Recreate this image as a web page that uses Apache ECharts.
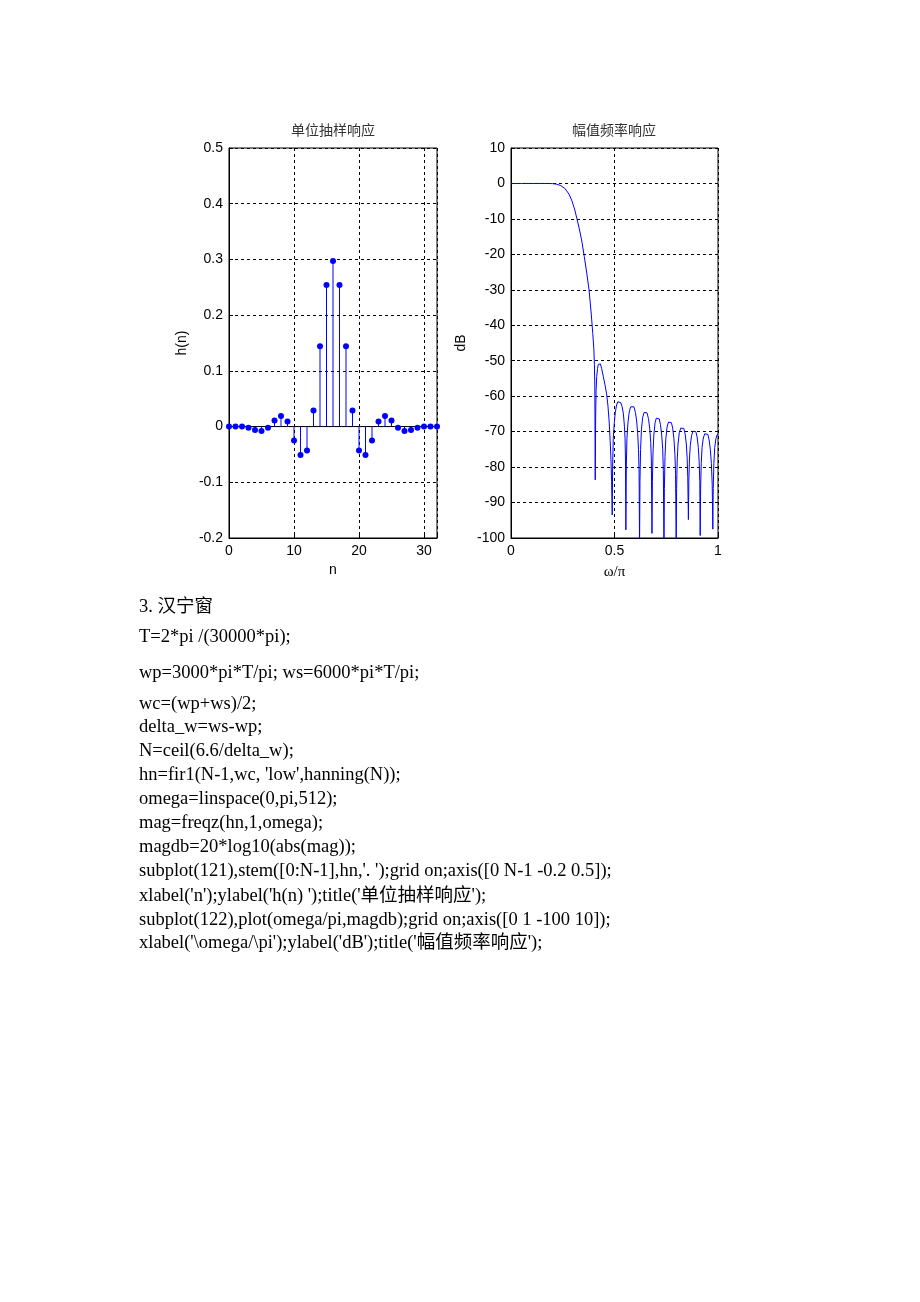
<!DOCTYPE html>
<html>
<head>
<meta charset="utf-8">
<script src="https://cdn.jsdelivr.net/npm/echarts@6/dist/echarts.min.js"></script>
<style>
html,body{margin:0;padding:0;background:#fff;}
#chart{width:920px;height:1302px;}
</style>
</head>
<body>
<div id="chart"></div>
<script>
// ---- data: unit impulse response h(n) ----
const stemN = [0,1,2,3,4,5,6,7,8,9,10,11,12,13,14,15,16,17,18,19,20,21,22,23,24,25,26,27,28,29,30,31,32];
const stemH = [0,0,0,-0.002,-0.006,-0.008,-0.002,0.011,0.019,0.009,-0.025,-0.051,-0.043,0.029,0.144,0.254,0.297,
               0.254,0.144,0.029,-0.043,-0.051,-0.025,0.009,0.019,0.011,-0.002,-0.008,-0.006,-0.002,0,0,0];

// ---- data: magnitude response (omega/pi, dB) ----
const freqW = [0,0.05,0.10,0.15,0.18,0.20,0.22,0.24,0.26,0.28,0.293,0.307,0.32,0.33,0.341,0.354,0.366,0.377,0.386,0.39,0.395,0.400,0.403,0.405,0.407,
  0.409,0.411,0.414,0.418,0.422,0.427,0.432,0.438,0.446,0.454,0.462,0.468,0.474,0.479,0.483,0.486,0.489,
  0.491,0.494,0.499,0.504,0.510,0.516,0.523,0.530,0.537,0.543,0.548,0.551,0.553,0.555,
  0.557,0.560,0.565,0.571,0.578,0.586,0.594,0.601,0.607,0.612,0.616,0.619,0.621,
  0.623,0.626,0.630,0.636,0.643,0.650,0.657,0.664,0.670,0.675,0.678,0.681,
  0.683,0.686,0.690,0.696,0.702,0.709,0.716,0.722,0.728,0.733,0.736,0.739,
  0.741,0.744,0.748,0.754,0.761,0.768,0.775,0.781,0.787,0.792,0.795,0.798,
  0.800,0.803,0.807,0.813,0.820,0.828,0.835,0.841,0.847,0.851,0.854,0.857,
  0.859,0.862,0.866,0.872,0.879,0.886,0.893,0.899,0.905,0.909,0.912,0.914,
  0.916,0.919,0.923,0.929,0.936,0.944,0.951,0.957,0.963,0.968,0.972,0.975,
  0.977,0.980,0.984,0.990,0.995,1.0];
const freqDb = [0,0,0,0,0,-0.05,-0.2,-0.6,-1.4,-3.0,-4.7,-7.2,-10.3,-12.8,-15.9,-20.6,-25.3,-30,-35.7,-38.5,-42.3,-46.5,-51,-58,-83.6,
  -66,-58.5,-54.5,-52.2,-51,-50.5,-50.9,-52.2,-54.5,-56.8,-59.4,-62.5,-67,-72.5,-78,-84,-93.5,
  -80,-72,-67.5,-64.5,-62.5,-61.6,-61.4,-61.8,-63,-65,-68.5,-72,-78,-97.7,
  -80,-72,-67.5,-64.5,-63,-62.5,-63,-64.6,-67,-70.5,-75,-82,-103,
  -84,-75,-69.5,-66,-64.6,-64.2,-64.7,-66.3,-69,-73,-78,-98.7,
  -84,-76,-71,-67.5,-66.2,-65.9,-66.4,-68,-71,-75,-81,-104,
  -86,-77,-72,-68.7,-67.3,-67,-67.5,-69,-72,-76.5,-82,-101,
  -86,-78,-73.5,-70.3,-69,-68.7,-69.1,-70.6,-73.5,-77.5,-83,-94.8,
  -84,-78,-74,-71.2,-69.9,-69.6,-70,-71.5,-74.5,-78.5,-84,-99.3,
  -86,-79,-74.5,-71.8,-70.6,-70.3,-70.8,-72.3,-75,-79,-85,-97.5,
  -86,-79,-74.5,-72,-71,-70.6];

// ---- texts ----
const titleLeft = '单位抽样响应';
const titleRight = '幅值频率响应';
const codeLines = [
  '3. 汉宁窗',
  'T=2*pi /(30000*pi);',
  'wp=3000*pi*T/pi; ws=6000*pi*T/pi;',
  'wc=(wp+ws)/2;',
  'delta_w=ws-wp;',
  'N=ceil(6.6/delta_w);',
  "hn=fir1(N-1,wc, 'low',hanning(N));",
  'omega=linspace(0,pi,512);',
  'mag=freqz(hn,1,omega);',
  'magdb=20*log10(abs(mag));',
  "subplot(121),stem([0:N-1],hn,'. ');grid on;axis([0 N-1 -0.2 0.5]);",
  "xlabel('n');ylabel('h(n) ');title('单位抽样响应');",
  "subplot(122),plot(omega/pi,magdb);grid on;axis([0 1 -100 10]);",
  "xlabel('\\omega/\\pi');ylabel('dB');title('幅值频率响应');"
];
const codeLineY = [607,637,673,704,727,751,775,799,823,847,871,896,920,943];

const stemData = stemN.map((n, i) => [n, stemH[i]]);
const freqData = freqW.map((w, i) => [w, freqDb[i]]);

const AX = '"Liberation Sans", Arial, sans-serif';
const dash = {show: true, lineStyle: {color: '#000', width: 1, type: [3, 3]}};
const axLine = {show: true, onZero: false, lineStyle: {color: '#000', width: 1}};
const axTick = {show: true, inside: true, length: 4, lineStyle: {color: '#000'}};
const lab = {color: '#000', fontSize: 14, fontFamily: AX};

const chart = echarts.init(document.getElementById('chart'), null, {renderer: 'canvas'});
chart.setOption({
  animation: false,
  backgroundColor: '#fff',
  title: [
    {text: titleLeft, left: 333, top: 123, textAlign: 'center', padding: 0,
     textStyle: {fontSize: 14, fontWeight: 'normal', color: '#333', fontFamily: '"Noto Sans CJK SC", sans-serif'}},
    {text: titleRight, left: 614, top: 123, textAlign: 'center', padding: 0,
     textStyle: {fontSize: 14, fontWeight: 'normal', color: '#333', fontFamily: '"Noto Sans CJK SC", sans-serif'}}
  ],
  grid: [
    {left: 229, top: 148, width: 208, height: 390, show: true, borderColor: '#000', borderWidth: 1, backgroundColor: 'transparent'},
    {left: 511, top: 148, width: 207, height: 390, show: true, borderColor: '#000', borderWidth: 1, backgroundColor: 'transparent'}
  ],
  xAxis: [
    {gridIndex: 0, type: 'value', min: 0, max: 32, interval: 10,
     axisLine: axLine, axisTick: axTick, splitLine: dash,
     axisLabel: Object.assign({margin: 6, formatter: v => (v % 10 === 0 ? String(v) : '')}, lab),
     name: 'n', nameLocation: 'middle', nameGap: 25,
     nameTextStyle: {color: '#000', fontSize: 14, fontFamily: AX}},
    {gridIndex: 1, type: 'value', min: 0, max: 1, interval: 0.5,
     axisLine: axLine, axisTick: axTick, splitLine: dash,
     axisLabel: Object.assign({margin: 6}, lab),
     name: 'ω/π', nameLocation: 'middle', nameGap: 27,
     nameTextStyle: {color: '#000', fontSize: 15, fontFamily: '"Liberation Serif", serif'}}
  ],
  yAxis: [
    {gridIndex: 0, type: 'value', min: -0.2, max: 0.5, interval: 0.1,
     axisLine: axLine, axisTick: axTick, splitLine: dash,
     axisLabel: Object.assign({margin: 6}, lab),
     name: 'h(n)', nameLocation: 'middle', nameRotate: 90, nameGap: 40,
     nameTextStyle: {color: '#000', fontSize: 14, fontFamily: AX}},
    {gridIndex: 1, type: 'value', min: -100, max: 10, interval: 10,
     axisLine: axLine, axisTick: axTick, splitLine: dash,
     axisLabel: Object.assign({margin: 6}, lab),
     name: 'dB', nameLocation: 'middle', nameRotate: 90, nameGap: 43,
     nameTextStyle: {color: '#000', fontSize: 14, fontFamily: AX}}
  ],
  series: [
    {type: 'line', xAxisIndex: 0, yAxisIndex: 0, data: [[stemN[0], 0], [stemN[stemN.length - 1], 0]],
     symbol: 'none', lineStyle: {color: '#000', width: 1}, z: 2, silent: true},
    {type: 'custom', xAxisIndex: 0, yAxisIndex: 0, data: stemData, z: 3,
     encode: {x: 0, y: 1},
     renderItem: function (params, api) {
       const x = api.value(0), y = api.value(1);
       const p0 = api.coord([x, 0]);
       const p1 = api.coord([x, y]);
       return {type: 'group', children: [
         {type: 'line', shape: {x1: p0[0], y1: p0[1], x2: p1[0], y2: p1[1]},
          style: {stroke: '#0000ff', lineWidth: 1}},
         {type: 'circle', shape: {cx: p1[0], cy: p1[1], r: 3}, style: {fill: '#0000ff'}}
       ]};
     }},
    {type: 'line', xAxisIndex: 1, yAxisIndex: 1, data: freqData, showSymbol: false, symbol: 'none',
     clip: true, lineStyle: {color: '#0000ff', width: 1}, z: 3}
  ],
  graphic: codeLines.map((t, i) => ({
    type: 'text', x: 139, y: codeLineY[i], silent: true,
    style: {text: t, fill: '#000', verticalAlign: 'middle', align: 'left',
            font: '18.5px "Liberation Serif", "Noto Sans CJK SC", serif'}
  }))
});
</script>
</body>
</html>
